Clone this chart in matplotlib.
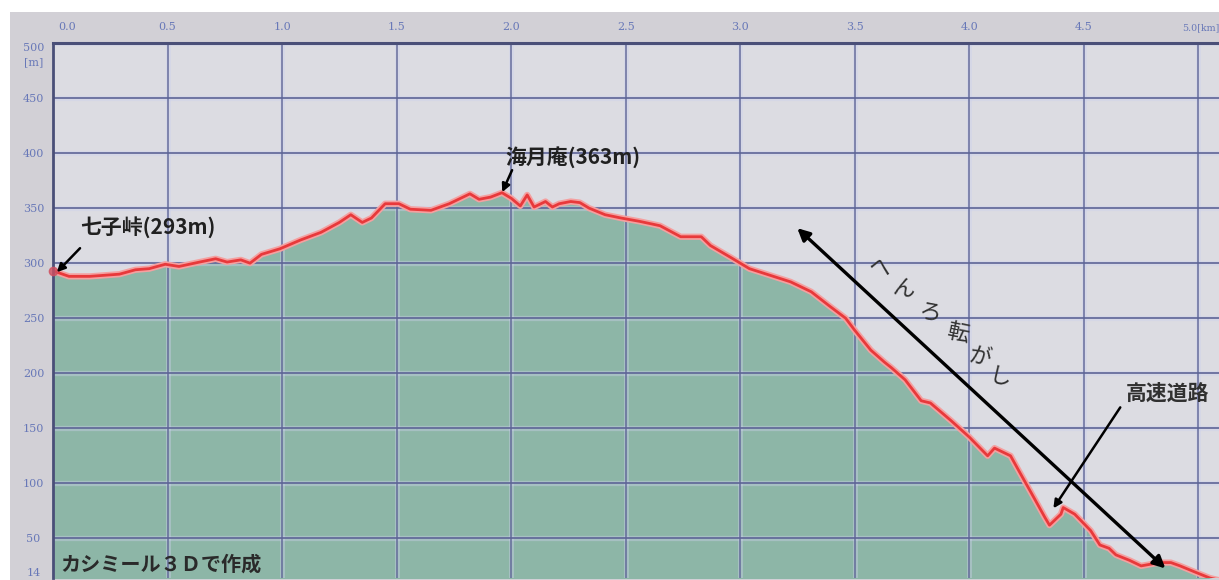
import matplotlib
matplotlib.use("Agg")
import matplotlib.pyplot as plt
from matplotlib.patches import Rectangle
from matplotlib.transforms import ScaledTranslation

plt.rcParams['font.family'] = ['Noto Sans CJK JP', 'DejaVu Sans']

# distance along route [km]
distance_km = [0.00, 0.07, 0.16, 0.29, 0.36, 0.42, 0.49, 0.55, 0.64, 0.71, 0.76, 0.82,
               0.86, 0.91, 0.99, 1.08, 1.17, 1.25, 1.30, 1.35, 1.39, 1.45, 1.51, 1.56,
               1.65, 1.73, 1.82, 1.86, 1.91, 1.96, 2.00, 2.04, 2.07, 2.10, 2.15, 2.18,
               2.21, 2.26, 2.30, 2.34, 2.41, 2.48, 2.56, 2.65, 2.74, 2.83, 2.87, 2.96,
               3.04, 3.13, 3.22, 3.31, 3.39, 3.46, 3.50, 3.57, 3.63, 3.66, 3.72, 3.79,
               3.83, 3.92, 4.00, 4.08, 4.11, 4.18, 4.22, 4.29, 4.33, 4.35, 4.40, 4.41,
               4.46, 4.53, 4.57, 4.61, 4.64, 4.70, 4.75, 4.83, 4.88, 4.92, 4.99, 5.05, 5.09]
# elevation [m]
elevation_m = [293, 288, 288, 290, 294, 295, 299, 297, 301, 304, 301, 303,
               300, 308, 313, 321, 328, 337, 344, 337, 341, 354, 354, 349,
               348, 354, 363, 358, 360, 364, 359, 352, 362, 351, 356, 351,
               354, 356, 355, 350, 344, 341, 338, 334, 324, 324, 316, 305,
               295, 289, 283, 274, 261, 250, 239, 221, 210, 205, 194, 175,
               173, 157, 142, 125, 132, 125, 110, 84, 69, 62, 72, 78,
               72, 57, 44, 41, 35, 30, 25, 28, 28, 25, 19, 14, 12]

x_ticks = [0.0, 0.5, 1.0, 1.5, 2.0, 2.5, 3.0, 3.5, 4.0, 4.5, 5.0]
x_tick_labels = ["0.0", "0.5", "1.0", "1.5", "2.0", "2.5", "3.0", "3.5", "4.0", "4.5", ""]
x_last_label = "5.0[km]"
y_ticks = [14, 50, 100, 150, 200, 250, 300, 350, 400, 450, 500]
y_tick_labels = ["14", "50", "100", "150", "200", "250", "300", "350", "400", "450", "500\n[m]"]

W, H = 1219, 580
fig = plt.figure(figsize=(W / 100, H / 100), dpi=100, facecolor='#d2d0d6')
# white strips at top and left
fig.patches.append(Rectangle((0, (H - 12) / H), 1, 12 / H, transform=fig.transFigure,
                             facecolor='white', edgecolor='none', zorder=-10))
fig.patches.append(Rectangle((0, 0), 10 / W, 1, transform=fig.transFigure,
                             facecolor='white', edgecolor='none', zorder=-10))

ax = fig.add_axes([53 / W, 2 / H, (W - 53) / W, (578 - 43) / H])
ax.set_zorder(1)
ax.set_facecolor('#dcdce2')
ax.set_xlim(0, 5.09)
ax.set_ylim(14, 500)

ax.fill_between(distance_km, elevation_m, 0, color='#8db6a7', zorder=1.0, lw=0)

grid_col = '#5d6496'
halo_col = (0.80, 0.82, 0.93, 0.4)
for xv in x_ticks[1:]:
    ax.axvline(xv, color=halo_col, lw=3.6, zorder=1.5)
    ax.axvline(xv, color=grid_col, lw=1.2, alpha=0.85, zorder=1.6)
for yv in y_ticks[1:]:
    ax.axhline(yv, color=halo_col, lw=3.8, zorder=1.5)
    ax.axhline(yv, color=grid_col, lw=1.4, alpha=0.85, zorder=1.6)

ax.plot(distance_km, elevation_m, color='#f4a0a0', lw=4.5, zorder=2, solid_joinstyle='round')
ax.plot(distance_km, elevation_m, color='#e8393b', lw=2.0, zorder=2.1, solid_joinstyle='round')
ax.plot([distance_km[0]], [elevation_m[0]], 'o', color='#d05060', ms=6, alpha=0.8,
        clip_on=False, zorder=3)

for s in ['top', 'bottom', 'right']:
    ax.spines[s].set_visible(False)
ax.spines['left'].set_color('#4a4f78')
ax.spines['left'].set_linewidth(2)
ax.axhline(500, color='#4a4f78', lw=2.2, zorder=1.7, clip_on=False)

tick_font = dict(color='#6878b8', family='DejaVu Serif')
ax.xaxis.tick_top()
ax.set_xticks(x_ticks)
ax.set_xticklabels(x_tick_labels, fontsize=8, **tick_font)
ax.tick_params(axis='x', length=0, pad=8)
first = ax.get_xticklabels()[0]
first.set_transform(first.get_transform() + ScaledTranslation(0.14, 0, fig.dpi_scale_trans))
ax.annotate(x_last_label, xy=(x_ticks[-1], 1), xycoords=('data', 'axes fraction'),
            xytext=(-12, 8), textcoords='offset points', ha='left', va='bottom',
            fontsize=6.8, annotation_clip=False, **tick_font)

ax.set_yticks(y_ticks)
ax.set_yticklabels(y_tick_labels, fontsize=8, linespacing=1.5, **tick_font)
ax.tick_params(axis='y', length=0, pad=14)
yl = ax.get_yticklabels()
for lbl in yl:
    lbl.set_horizontalalignment('center')
yl[0].set_verticalalignment('bottom')
yl[-1].set_verticalalignment('top')

arrow_kw = dict(arrowstyle='-|>', color='black', lw=1.8, mutation_scale=12,
                shrinkA=0, shrinkB=0)
label_kw = dict(fontsize=15, fontweight='bold', color='#202020', zorder=5,
                va='center', ha='left')
ax.annotate('', xy=(0.017, 291.8), xytext=(0.118, 313.6), arrowprops=arrow_kw, zorder=5)
ax.text(0.118, 332.7, '七子峠(293m)', **label_kw)
ax.annotate('', xy=(1.961, 364.5), xytext=(2.004, 384.5), arrowprops=arrow_kw, zorder=5)
ax.text(1.974, 396, '海月庵(363m)', **label_kw)
ax.annotate('', xy=(4.367, 77.3), xytext=(4.659, 169), arrowprops=arrow_kw, zorder=5)
ax.text(4.681, 182, '高速道路', fontsize=15, fontweight='bold', color='#303030',
        va='center', ha='left', zorder=5)

# long double-headed arrow
ax.annotate('', xy=(4.856, 22.7), xytext=(3.249, 331.8),
            arrowprops=dict(arrowstyle='<|-|>', color='black', lw=2.4,
                            mutation_scale=18, shrinkA=0, shrinkB=0), zorder=5)
chars = ['へ', 'ん', 'ろ', '転', 'が', 'し']
char_x = [3.611, 3.712, 3.830, 3.948, 4.048, 4.135]
char_y = [295.5, 276.0, 255.5, 236.4, 214.5, 196.4]
for c, cx, cy in zip(chars, char_x, char_y):
    ax.text(cx, cy, c, fontsize=16, color='#303030', ha='center', va='center',
            rotation=-12, zorder=5)

ax.text(0.031, 27, 'カシミール３Ｄで作成', fontsize=14.5, fontweight='bold',
        color='#2a2a2a', va='center', ha='left', zorder=5)

fig.savefig('out.png', dpi=100, facecolor=fig.get_facecolor())
